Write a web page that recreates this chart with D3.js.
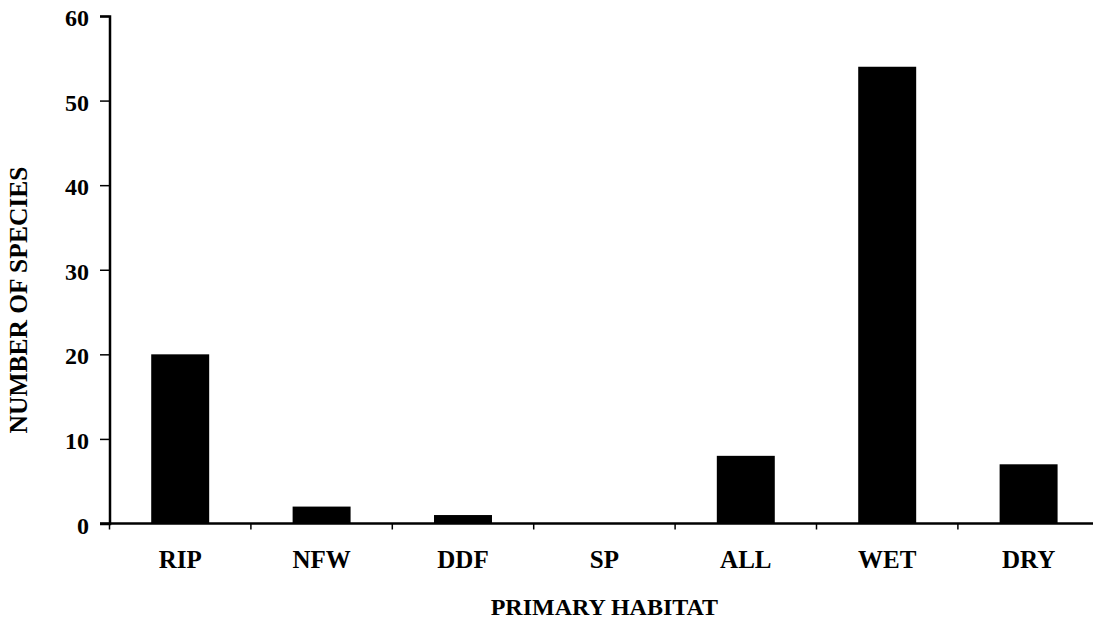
<!DOCTYPE html>
<html>
<head>
<meta charset="utf-8">
<script src="https://cdn.jsdelivr.net/npm/d3@7"></script>
<style>
  body { margin: 0; background: #fff; }
  text { font-family: "Liberation Serif", "Times New Roman", serif; font-weight: bold; fill: #000; }
</style>
</head>
<body>
<div id="chart"></div>
<script>
var categories = ['RIP', 'NFW', 'DDF', 'SP', 'ALL', 'WET', 'DRY'];
var speciesCounts = [20, 2, 1, 0, 8, 54, 7];
var yTicks = [0, 10, 20, 30, 40, 50, 60];

var WIDTH = 1093,
    HEIGHT = 619,
    margin = { left: 109.5, top: 16, right: 0, bottom: 95.5 },
    plotW = 141.4 * categories.length,
    plotH = HEIGHT - margin.top - margin.bottom;

var svg = d3.select('#chart').append('svg')
    .attr('width', WIDTH)
    .attr('height', HEIGHT);

var x = d3.scaleBand()
    .domain(categories)
    .range([margin.left, margin.left + plotW])
    .paddingInner(0.59)
    .paddingOuter(0.295);

var y = d3.scaleLinear()
    .domain([0, 60])
    .range([margin.top + plotH, margin.top]);

// bars
svg.selectAll('rect.bar')
    .data(categories)
    .enter()
    .append('rect')
    .attr('class', 'bar')
    .attr('x', function (d) { return x(d); })
    .attr('width', x.bandwidth())
    .attr('y', function (d, i) { return y(speciesCounts[i]); })
    .attr('height', function (d, i) { return y(0) - y(speciesCounts[i]); })
    .attr('fill', '#000');

// y axis
var yAxis = svg.append('g')
    .attr('transform', 'translate(' + margin.left + ',0)')
    .call(d3.axisLeft(y).tickValues(yTicks).tickSize(9.5).tickPadding(11));
yAxis.select('.domain').attr('stroke', '#000').attr('stroke-width', 2.5);
yAxis.selectAll('.tick line').attr('stroke', '#000').attr('stroke-width', 1.5);
yAxis.selectAll('.tick text')
    .attr('dy', '0.4em')
    .style('font-size', '24px')
    .style('font-family', '"Liberation Serif", serif');

// x axis, ticks sit on category boundaries
var boundaries = d3.range(categories.length + 1).map(function (i) {
  return margin.left + i * plotW / categories.length;
});
svg.append('line')
    .attr('x1', margin.left - 9.5)
    .attr('x2', margin.left + plotW)
    .attr('y1', y(0))
    .attr('y2', y(0))
    .attr('stroke', '#000')
    .attr('stroke-width', 2.5);
svg.selectAll('line.xtick')
    .data(boundaries)
    .enter()
    .append('line')
    .attr('class', 'xtick')
    .attr('x1', function (d) { return d; })
    .attr('x2', function (d) { return d; })
    .attr('y1', y(0))
    .attr('y2', y(0) + 6)
    .attr('stroke', '#000')
    .attr('stroke-width', 1.5);

svg.selectAll('text.xlabel')
    .data(categories)
    .enter()
    .append('text')
    .attr('class', 'xlabel')
    .attr('x', function (d) { return x(d) + x.bandwidth() / 2; })
    .attr('y', 568)
    .attr('text-anchor', 'middle')
    .style('font-size', '25px')
    .text(function (d) { return d; });

// axis titles
svg.append('text')
    .attr('x', margin.left + plotW / 2)
    .attr('y', 615)
    .attr('text-anchor', 'middle')
    .style('font-size', '24px')
    .text('PRIMARY HABITAT');

svg.append('text')
    .attr('transform', 'translate(27,300) rotate(-90)')
    .attr('text-anchor', 'middle')
    .style('font-size', '25.5px')
    .text('NUMBER OF SPECIES');
</script>
</body>
</html>
